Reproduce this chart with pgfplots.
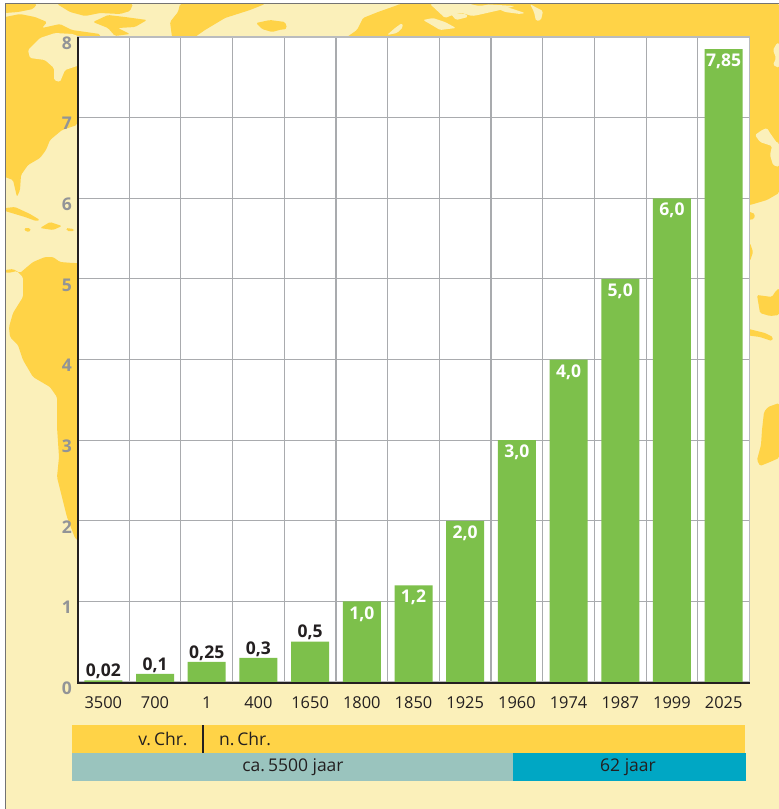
\documentclass[border=0pt]{standalone}
\usepackage{pgfplots}
\usepackage{pgfplotstable}
\usepackage{fontspec}
\setmainfont{Open Sans}
\pgfplotsset{compat=1.18}
\definecolor{bgl}{HTML}{FBF0BA}
\definecolor{land}{HTML}{FFD347}
\definecolor{barg}{HTML}{7DC04B}
\definecolor{gridg}{HTML}{A9ABAE}
\definecolor{tickg}{HTML}{929497}
\definecolor{darkt}{HTML}{231F20}
\definecolor{teal1}{HTML}{9AC4BE}
\definecolor{blue1}{HTML}{00A7C4}
\newcommand{\lab}{\fontsize{16.4}{18}\selectfont}
\newcommand{\labb}{\fontsize{17.5}{20}\selectfont}
\pgfplotstableread{
x y lab
0 0.02 0,02
1 0.1 0,1
2 0.25 0,25
3 0.3 0,3
4 0.5 0,5
}\smalltab
\pgfplotstableread{
x y lab
5 1.0 1,0
6 1.2 1,2
7 2.0 2,0
8 3.0 3,0
9 4.0 4,0
10 5.0 5,0
11 6.0 6,0
12 7.85 7,85
}\bigtab
\begin{document}
\begin{tikzpicture}
\useasboundingbox (0,0) rectangle (779pt,-809pt);
\begin{scope}[x=1pt,y=-1pt]
\fill[white] (0,0) rectangle (779,809);
\fill[bgl] (5,3) rectangle (779,809);
\clip (5,3) rectangle (779,809);
\begin{scope}[rounded corners=1.5pt]
% North America
\fill[land] (5,17)--(20,14)--(35,17)--(47,22)--(42,28)--(60,24)--(72,30)--(100,34)--(100,118)--(77,118)--(77,125)--(62,130)--(50,140)--(46,150)--(40,158)--(28,165)--(21,175)--(20,190)--(17,197)--(13,180)--(5,177)--cycle;
\fill[bgl] (28,50)--(40,38)--(55,33)--(73,34)--(80,37)--(80,65)--(65,70)--(60,82)--(54,80)--(54,68)--(45,60)--(30,58)--cycle;
% Arctic
\fill[land] (5,4)--(37,4)--(33,9)--(18,12)--(5,13)--cycle;
\fill[land] (57,4)--(80,4)--(133,4)--(130,11)--(120,14)--(100,13)--(85,16)--(70,12)--cycle;
\fill[land] (93,22)--(108,15)--(125,17)--(147,20)--(135,27)--(118,28)--(130,34)--(115,36)--(108,28)--cycle;
% Greenland, Iceland
\fill[land] (172,37)--(170,22)--(178,12)--(180,4)--(265,4)--(250,10)--(225,18)--(205,30)--(195,37)--cycle;
\fill[land] (256,23)--(270,20)--(285,22)--(287,28)--(272,32)--(262,29)--cycle;
\fill[land] (280,24)--(285,25)--(287,28)--(283,30)--(280,29)--cycle;
% Eurasia
\fill[land] (347,37)--(357,30)--(363,18)--(378,12)--(395,6)--(400,4)--(779,4)--(779,193)--(767,200)--(750,205)--(740,205)--(740,37)--cycle;
\fill[bgl] (387,35)--(395,28)--(402,23)--(403,27)--(397,33)--cycle;
\fill[bgl] (423,20)--(433,18)--(445,22)--(456,28)--(440,30)--(430,24)--cycle;
\fill[bgl] (445,18)--(455,14)--(462,13)--(472,16)--(478,15)--(500,10)--(515,6)--(480,4)--(430,4)--cycle;
\fill[bgl] (450,13)--(466,14)--(468,17)--(456,20)--cycle;
\fill[bgl] (492,6)--(510,8)--(525,13)--(520,14)--(505,12)--cycle;
\fill[bgl] (530,4)--(537,8)--(543,11)--(541,20)--(536,21)--(534,12)--cycle;
\fill[land] (470,4)--(480,3)--(490,4)--(480,6)--cycle;
\fill[bgl] (773,65)--(776,58)--(773,50)--(777,43)--(779,43)--(779,68)--cycle;
\fill[bgl] (755,135)--(762,130)--(767,128)--(770,133)--(777,143)--(779,143)--(779,167)--(773,165)--(770,155)--(772,146)--(760,142)--cycle;
% Africa etc. south of the Mediterranean
\fill[land] (745,210)--(755,214)--(754,219)--(748,220)--cycle;
\fill[land] (745,243)--(750,243)--(753,252)--(750,261)--(745,260)--cycle;
\fill[land] (757,295)--(772,297)--(775,292)--(779,288)--(779,315)--(770,316)--(760,313)--cycle;
\fill[land] (745,328)--(765,333)--(773,337)--(772,341)--(760,337)--(745,335)--cycle;
\fill[land] (779,403)--(768,407)--(764,412)--(762,430)--(761,445)--(757,460)--(760,466)--(770,462)--(779,458)--cycle;
% South America
\fill[land] (5,270)--(13,269)--(20,273)--(27,267)--(33,262)--(45,257)--(53,257)--(60,262)--(73,263)--(90,263)--(90,545)--(77,540)--(75,538)--(67,517)--(62,497)--(57,477)--(59,457)--(57,427)--(57,397)--(50,387)--(33,377)--(23,360)--(18,345)--(10,337)--(9,327)--(13,313)--(23,297)--(23,277)--(17,271)--(8,273)--(5,272)--cycle;
% Caribbean
\fill[land] (5,208)--(15,207)--(30,214)--(40,220)--(36,221)--(25,217)--(5,211)--cycle;
\fill[land] (40,228)--(50,222)--(62,226)--(53,230)--cycle;
\fill[land] (24,228)--(30,228)--(31,231)--(26,232)--cycle;
\fill[land] (66,228)--(74,229)--(74,231)--(67,231)--cycle;
\end{scope}
\draw[gray!90!black,line width=1.5pt] (5,809)--(5,3)--(779,3);
% time bars
\fill[land] (72,725) rectangle (745,753);
\fill[teal1] (72,753) rectangle (513,781);
\fill[blue1] (513,753) rectangle (746,781);
\draw[darkt,line width=1.5pt] (203,725)--(203,753);
\node[text=darkt,font=\labb] at (163,739) {v.\,Chr.};
\node[text=darkt,font=\labb] at (245,739) {n.\,Chr.};
\node[text=darkt,font=\labb] at (293,767) {ca.\,5500 jaar};
\node[text=darkt,font=\labb] at (628,767) {62 jaar};
\end{scope}
\begin{axis}[
  at={(77.5pt,-682pt)}, anchor=south west,
  scale only axis, width=672pt, height=645pt,
  xmin=-0.5, xmax=12.5, ymin=0, ymax=8,
  ybar, bar width=38pt,
  axis background/.style={fill=white},
  axis line style={gridg!80,line width=1.5pt},
  xtick={0,...,12},
  xticklabels={3500,700,1,400,1650,1800,1850,1925,1960,1974,1987,1999,2025},
  minor xtick={0.5,1.5,...,11.5},
  ytick={0,...,8},
  xminorgrids, ymajorgrids,
  minor grid style={gridg,line width=1.1pt},
  major grid style={gridg,line width=1.1pt},
  major tick length=0pt, minor tick length=0pt,
  /pgf/number format/assume math mode=true,
  xticklabel style={font=\lab,text=darkt,yshift=-11pt},
  yticklabel style={font=\labb\bfseries,text=tickg,yshift=-6pt,xshift=-2pt},
  point meta=explicit symbolic,
  clip=false,
]
\addplot[fill=barg,draw=none,bar shift=0pt,
  nodes near coords,
  every node near coord/.style={font=\labb\bfseries,text=darkt,anchor=south,yshift=-2pt}]
  table[x=x,y=y,meta=lab] {\smalltab};
\addplot[fill=barg,draw=none,bar shift=0pt,
  nodes near coords,
  every node near coord/.style={font=\labb\bfseries,text=white,anchor=north,yshift=-1.5pt}]
  table[x=x,y=y,meta=lab] {\bigtab};
\end{axis}
\begin{scope}[x=1pt,y=-1pt]
\draw[darkt,line width=2pt] (77.5,37)--(77.5,682.5)--(750,682.5);
\end{scope}
\end{tikzpicture}
\end{document}
